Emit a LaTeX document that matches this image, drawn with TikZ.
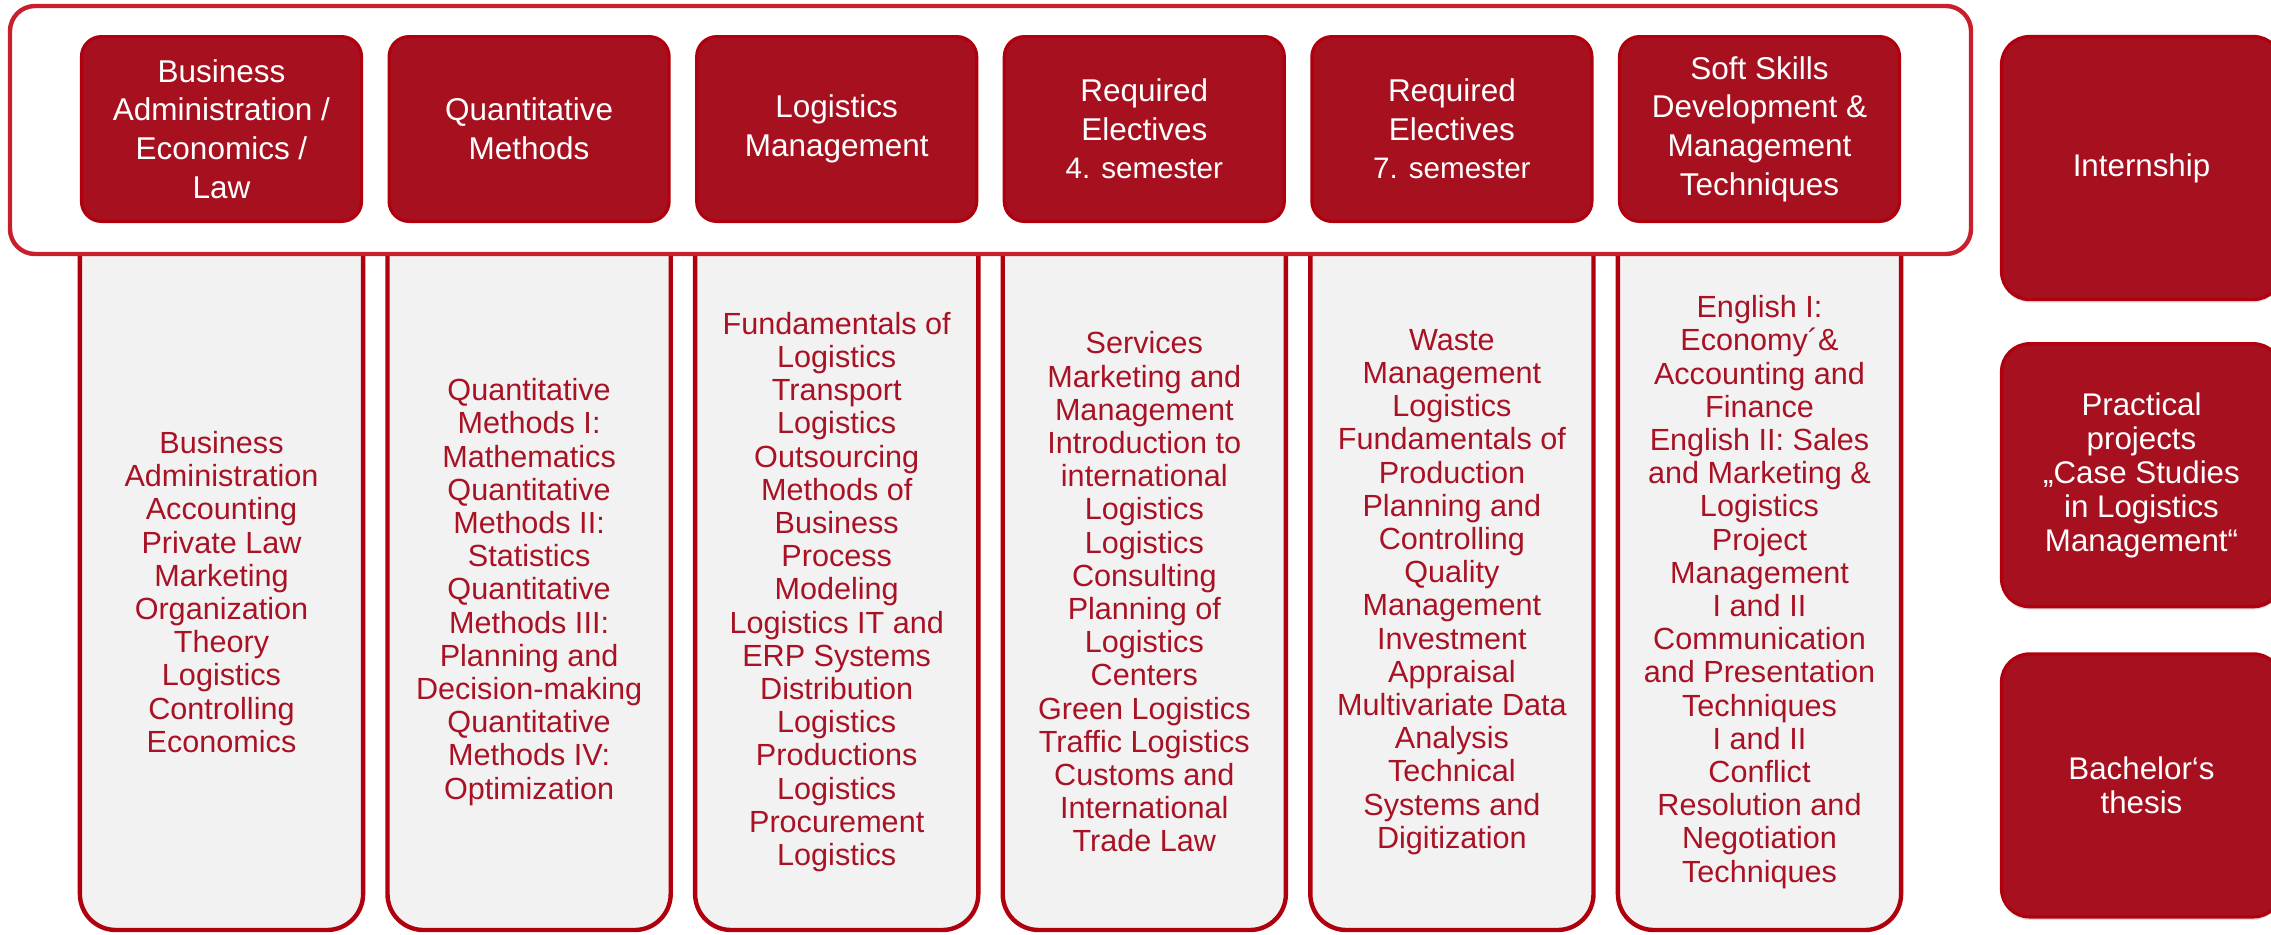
\documentclass[tikz,border=0pt]{standalone}
\usepackage{fontspec}
\setmainfont{Liberation Sans}
\usetikzlibrary{positioning,backgrounds,shadows}

\definecolor{hsred}{HTML}{A6101F}
\definecolor{hsline}{HTML}{B0000E}
\definecolor{hstext}{HTML}{A81224}
\definecolor{hsframe}{HTML}{C81F2C}
\definecolor{hsgray}{HTML}{F2F2F2}

\begin{document}
\begin{tikzpicture}
  [x=0.5pt, y=-0.5pt, node distance=12.2pt,
   head/.style={fill=hsred, draw=hsline, line width=1.6pt, rounded corners=10pt,
     minimum width=140pt, minimum height=92.4pt, text=white, align=center,
     font=\fontsize{15.75}{19.3}\selectfont},
   sidebox/.style={head, minimum height=131.5pt, rounded corners=14pt,
     font=\fontsize{15.65}{17}\selectfont,
     drop shadow={opacity=0.25, shadow xshift=0pt, shadow yshift=-1.5pt}},
   body/.style={text=hstext, align=center, font=\fontsize{15.3}{16.6}\selectfont},
   colbox/.style={fill=hsgray, draw=hsline, line width=2.2pt},
   outerbox/.style={draw=hsframe, fill=white, line width=2.2pt, rounded corners=12.5pt}]
  \useasboundingbox (0,0) rectangle (2271,934);

  % module groups
  \node[head] (ba) at (221.5,129) {Business\\Administration /\\Economics /\\Law};
  \node[head, right=of ba] (qm) {Quantitative\\Methods};
  \node[head, right=of qm] (lm) {Logistics\\Management};
  \node[head, right=of lm] (re4) {Required\\Electives\\{\fontsize{14.8}{18}\selectfont 4. semester}};
  \node[head, right=of re4] (re7) {Required\\Electives\\{\fontsize{14.8}{18}\selectfont 7. semester}};
  \node[head, right=of re7] (ss) {Soft Skills\\Development \&\\Management\\Techniques};

  % columns under the frame
  \begin{pgfonlayer}{background}
    \foreach \h in {ba,qm,lm,re4,re7,ss}
      \draw[colbox] (\h.west |- 0,240) [rounded corners=18pt] -- (\h.west |- 0,930)
        -- (\h.east |- 0,930) -- (\h.east |- 0,240);
    \draw[outerbox] (10,6) rectangle (1971,254);
  \end{pgfonlayer}

  \node[body] (c1) at (ba |- 0,592) {Business\\Administration\\Accounting\\Private Law\\Marketing\\Organization\\Theory\\Logistics\\Controlling\\Economics};
  \node[body] (c2) at (qm |- 0,592) {Quantitative\\Methods I:\\Mathematics\\Quantitative\\Methods II:\\Statistics\\Quantitative\\Methods III:\\Planning and\\Decision-making\\Quantitative\\Methods IV:\\Optimization};
  \node[body] (c3) at (lm |- 0,592) {Fundamentals of\\Logistics\\Transport\\Logistics\\Outsourcing\\Methods of\\Business\\Process\\Modeling\\Logistics IT and\\ERP Systems\\Distribution\\Logistics\\Productions\\Logistics\\Procurement\\Logistics};
  \node[body] (c4) at (re4 |- 0,592) {Services\\Marketing and\\Management\\Introduction to\\international\\Logistics\\Logistics\\Consulting\\Planning of\\Logistics\\Centers\\Green Logistics\\Traffic Logistics\\Customs and\\International\\Trade Law};
  \node[body] (c5) at (re7 |- 0,592) {Waste\\Management\\Logistics\\Fundamentals of\\Production\\Planning and\\Controlling\\Quality\\Management\\Investment\\Appraisal\\Multivariate Data\\Analysis\\Technical\\Systems and\\Digitization};
  \node[body] (c6) at (ss |- 0,592) {English I:\\Economy´\&\\Accounting and\\Finance\\English II: Sales\\and Marketing \&\\Logistics\\Project\\Management\\I and II\\Communication\\and Presentation\\Techniques\\I and II\\Conflict\\Resolution and\\Negotiation\\Techniques};

  % right hand side
  \node[sidebox] (intern) at (2141.5,168) {Internship};
  \node[sidebox, below=20.5pt of intern] (proj) {Practical\\projects\\„Case Studies\\in Logistics\\Management“};
  \node[sidebox, below=22pt of proj] (thesis) {Bachelor‘s\\thesis};
\end{tikzpicture}
\end{document}
